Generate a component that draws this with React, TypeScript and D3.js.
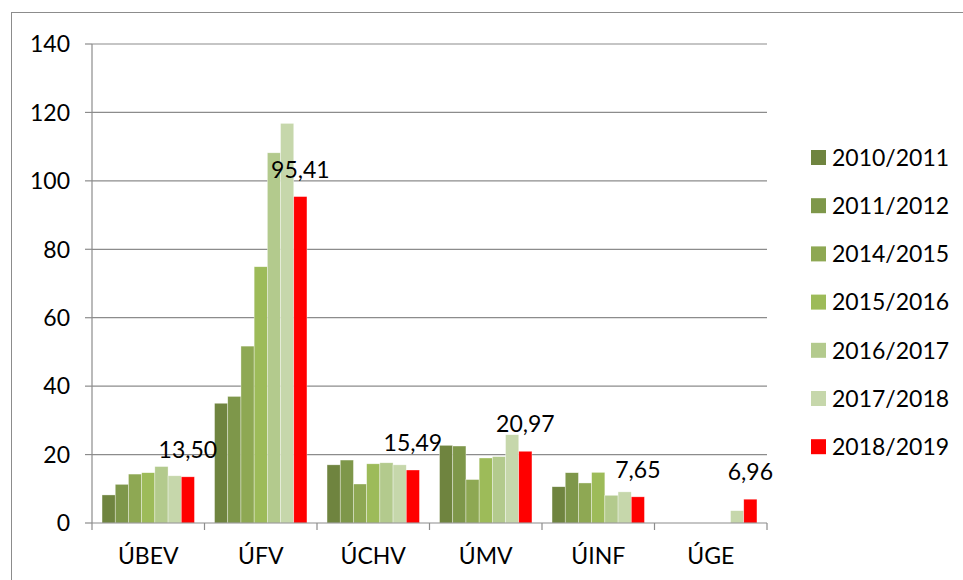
import React from "react";
import * as d3 from "d3";

const categories = ["ÚBEV", "ÚFV", "ÚCHV", "ÚMV", "ÚINF", "ÚGE"];
const seriesNames = ["2010/2011", "2011/2012", "2014/2015", "2015/2016", "2016/2017", "2017/2018", "2018/2019"];
const s2010 = [8.2, 35.0, 17.0, 22.7, 10.6, 0];
const s2011 = [11.3, 37.0, 18.4, 22.5, 14.7, 0];
const s2014 = [14.3, 51.7, 11.4, 12.7, 11.7, 0];
const s2015 = [14.7, 74.9, 17.3, 19.0, 14.8, 0];
const s2016 = [16.5, 108.2, 17.6, 19.4, 8.1, 0];
const s2017 = [13.8, 116.8, 17.0, 25.8, 9.1, 3.6];
const s2018 = [13.5, 95.41, 15.49, 20.97, 7.65, 6.96];
const yTicks = [0, 20, 40, 60, 80, 100, 120, 140];
const colors = ["#6f843f", "#7e974a", "#8ea853", "#9dbb59", "#b3ca8d", "#c6d7ab", "#ff0000"];

const allSeries = [s2010, s2011, s2014, s2015, s2016, s2017, s2018];

export default function App() {
  const font = "Lato, 'Open Sans', sans-serif";
  const left = 92, right = 767, top = 44, bottom = 523;
  const y = d3.scaleLinear().domain([0, 140]).range([bottom, top]);
  const x = d3.scaleBand<string>().domain(categories).range([left, right]).paddingInner(0).paddingOuter(0);
  const xs = d3.scaleBand<string>().domain(seriesNames).range([0, x.bandwidth()]).paddingInner(0).paddingOuter(0.76);
  const fmt = (v: number) => v.toFixed(2).replace(".", ",");
  const gridColor = "#8c8c8c";

  return (
    <svg width={963} height={580} style={{ position: "absolute", left: 0, top: 0, background: "#fff" }} fontFamily={font}>
      <rect x={11.5} y={12.5} width={1000} height={600} fill="#fff" stroke="#8c8c8c" strokeWidth={1} />
      {yTicks.map((t) => (
        <g key={t}>
          {t > 0 && <line x1={left} x2={right} y1={y(t)} y2={y(t)} stroke={gridColor} strokeWidth={1.2} />}
          <line x1={left - 7} x2={left} y1={y(t)} y2={y(t)} stroke={gridColor} strokeWidth={1.2} />
          <text x={70} y={y(t)} dy="0.36em" textAnchor="end" fontSize={23} fill="#000">{t}</text>
        </g>
      ))}
      {categories.map((c, ci) => (
        <g key={c}>
          {seriesNames.map((s, si) => {
            const v = allSeries[si][ci];
            if (!v) return null;
            const bx = (x(c) as number) + (xs(s) as number);
            return (
              <rect key={s} x={bx} y={y(v)} width={xs.bandwidth()} height={y(0) - y(v)} fill={colors[si]} stroke="#ffffff" strokeWidth={0.6} strokeOpacity={0.6} />
            );
          })}
          <text x={(x(c) as number) + x.bandwidth() / 2} y={556} dy="0.36em" textAnchor="middle" fontSize={23} fill="#000">{c}</text>
        </g>
      ))}
      <line x1={left} x2={left} y1={top} y2={bottom} stroke={gridColor} strokeWidth={1.2} />
      <line x1={left} x2={right} y1={bottom} y2={bottom} stroke={gridColor} strokeWidth={1.2} />
      {d3.range(categories.length + 1).map((i) => {
        const tx = left + i * x.step();
        return <line key={i} x1={tx} x2={tx} y1={bottom} y2={bottom + 7} stroke={gridColor} strokeWidth={1.2} />;
      })}
      {categories.map((c, ci) => (
        <text
          key={c}
          x={(x(c) as number) + (xs(seriesNames[6]) as number) + xs.bandwidth() / 2}
          y={y(s2018[ci]) - 19}
          textAnchor="middle"
          fontSize={23}
          fill="#000"
        >
          {fmt(s2018[ci])}
        </text>
      ))}
      {seriesNames.map((s, i) => {
        const cy = 157.5 + i * 48.2;
        return (
          <g key={s}>
            <rect x={811} y={cy - 7.5} width={15} height={15} fill={colors[i]} />
            <text x={832} y={cy} dy="0.36em" fontSize={23} fill="#000">{s}</text>
          </g>
        );
      })}
    </svg>
  );
}
